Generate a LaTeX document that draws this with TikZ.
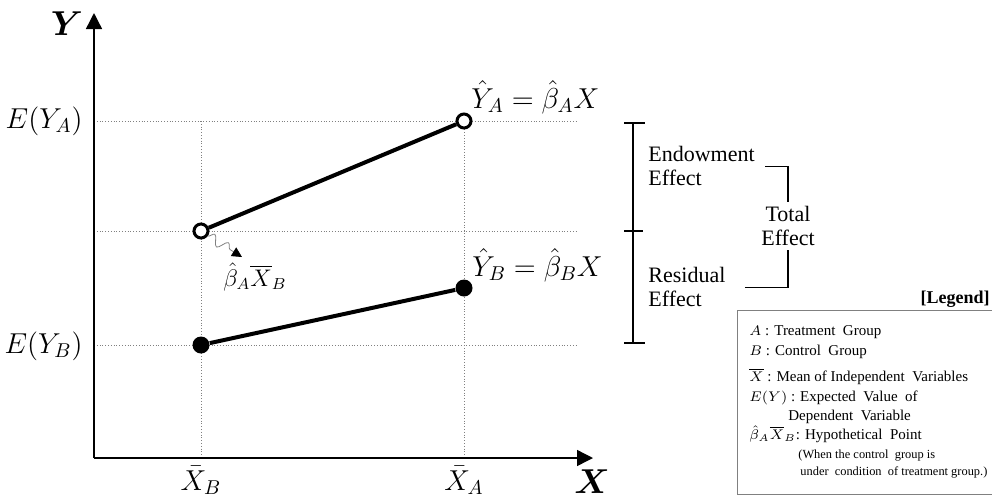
\documentclass[tikz,border=0pt]{standalone}
\usepackage{amsmath, amssymb}
\usepackage{fontspec}
\setmainfont{Liberation Serif}
\usetikzlibrary{
  arrows.meta,
  decorations.pathmorphing,
  positioning
}
\tikzset{>={Triangle[length=8pt, width=8pt]}}
\tikzset{
  axisline/.style={line width=0.7pt},
  guide/.style={gray, line width=0.4pt, densely dotted},
  fitline/.style={line width=2pt},
  openpt/.style={circle, draw, line width=1.5pt, fill=white, minimum size=7pt, inner sep=0pt},
  closedpt/.style={circle, fill=black, minimum size=8.5pt, inner sep=0pt},
  effect/.style={font=\fontsize{11}{12}\selectfont, align=left, inner sep=0pt},
  legendtext/.style={font=\fontsize{7.5}{9}\selectfont, anchor=base west, inner sep=0pt},
  legendnote/.style={font=\fontsize{6.2}{8}\selectfont, anchor=base west, inner sep=0pt}
}

\begin{document}
\begin{tikzpicture}[x=0.5pt, y=-0.5pt]
        \useasboundingbox (0,0) rectangle (992,500);
        \coordinate (O) at (94,458);
        \coordinate (ytip) at (94,13);
        \coordinate (xtip) at (593,458);
        \foreach \yy in {121, 231, 345}
          \draw[guide] (94,\yy) -- (578,\yy);
        \foreach \xx in {201, 464}
          \draw[guide] (\xx,121) -- (\xx,458);
        \draw[axisline, ->] (O) -- (ytip);
        \draw[axisline, ->] (O) -- (xtip);
        \node (ylab) at (67,24) {\LARGE $\boldsymbol{Y}$};
        \node (xlab) at (592,482) {\LARGE $\boldsymbol{X}$};
        \node[anchor=east, inner sep=0pt] (eya) at (83,121) {\Large $E(Y_A)$};
        \node[anchor=east, inner sep=0pt] (eyb) at (83,346) {\Large $E(Y_B)$};
        \node[anchor=base, inner sep=0pt] (xb) at (201,490) {\Large $\bar{X}_B$};
        \node[anchor=base, inner sep=0pt] (xa) at (464,490) {\Large $\bar{X}_A$};
        \node[openpt] (hypo) at (201,231) {};
        \node[openpt] (pta) at (464,121) {};
        \node[closedpt] (ptb0) at (201,345) {};
        \node[closedpt] (ptb) at (464,288) {};
        \draw[fitline] (hypo) -- (pta);
        \draw[fitline] (ptb0) -- (ptb);
        \node[anchor=base west, inner sep=0pt] (lineA) at (471,108) {\Large $\hat{Y}_A = \hat{\beta}_A X$};
        \node[anchor=base west, inner sep=0pt] (lineB) at (472,276) {\Large $\hat{Y}_B = \hat{\beta}_B X$};
        \coordinate (hypotip) at (242,257);
        \draw[gray, thin, decorate,
          decoration={snake, amplitude=2.5pt, segment length=8pt, post length=4pt},
          -{Triangle[black, length=5pt, width=5pt]}] (hypo.-35) -- (hypotip);
        \node[anchor=base west, inner sep=0pt] (hypolab) at (223,286) {\large $\hat{\beta}_A \overline{X}_B$};
        \draw[line width=0.6pt] (633,123) -- (633,343);
        \draw[line width=0.6pt] (624,123) -- (645,123);
        \draw[line width=0.6pt] (624,231) -- (643,231);
        \draw[line width=0.6pt] (624,343) -- (645,343);
        \node[effect, anchor=north west] (endow) at (648,146) {Endowment\\Effect};
        \node[effect, anchor=north west] (resid) at (648,267) {Residual\\Effect};
        \node[effect, align=center, inner sep=2pt] (total) at (788,226) {Total\\Effect};
        \draw[line width=0.6pt] (endow.east) ++(10,0) -| (total.north);
        \draw[line width=0.6pt] (resid.east) ++(19,0) -| (total.south);
        \node[anchor=base east, inner sep=0pt, font=\fontsize{9}{10}\selectfont\bfseries] (legtitle) at (990,303) {[Legend]};
        \draw[gray, line width=0.4pt] (992,310) -- (737,310) -- (737,494) -- (992,494);
        \node[legendtext] (legA) at (749,335) {$A$ : Treatment\ \ Group};
        \node[legendtext] (legB) at (749,355) {$B$ : Control\ \ Group};
        \node[legendtext] (legX) at (749,381) {$\overline{X}$ : Mean of Independent\ \ Variables};
        \node[legendtext] (legE) at (749,401) {$E(Y)$ : Expected\ \ Value\ \ of};
        \node[legendtext] (legE2) at (788,420) {Dependent\ \ Variable};
        \node[legendtext] (legH) at (749,439) {$\hat{\beta}_A\overline{X}_B$: Hypothetical\ \ Point};
        \node[legendnote] (legH2) at (798,458) {(When the control\ \ group is};
        \node[legendnote] (legH3) at (800,475) {under\ \ condition\ \ of treatment group.)};
      \end{tikzpicture}
\end{document}
